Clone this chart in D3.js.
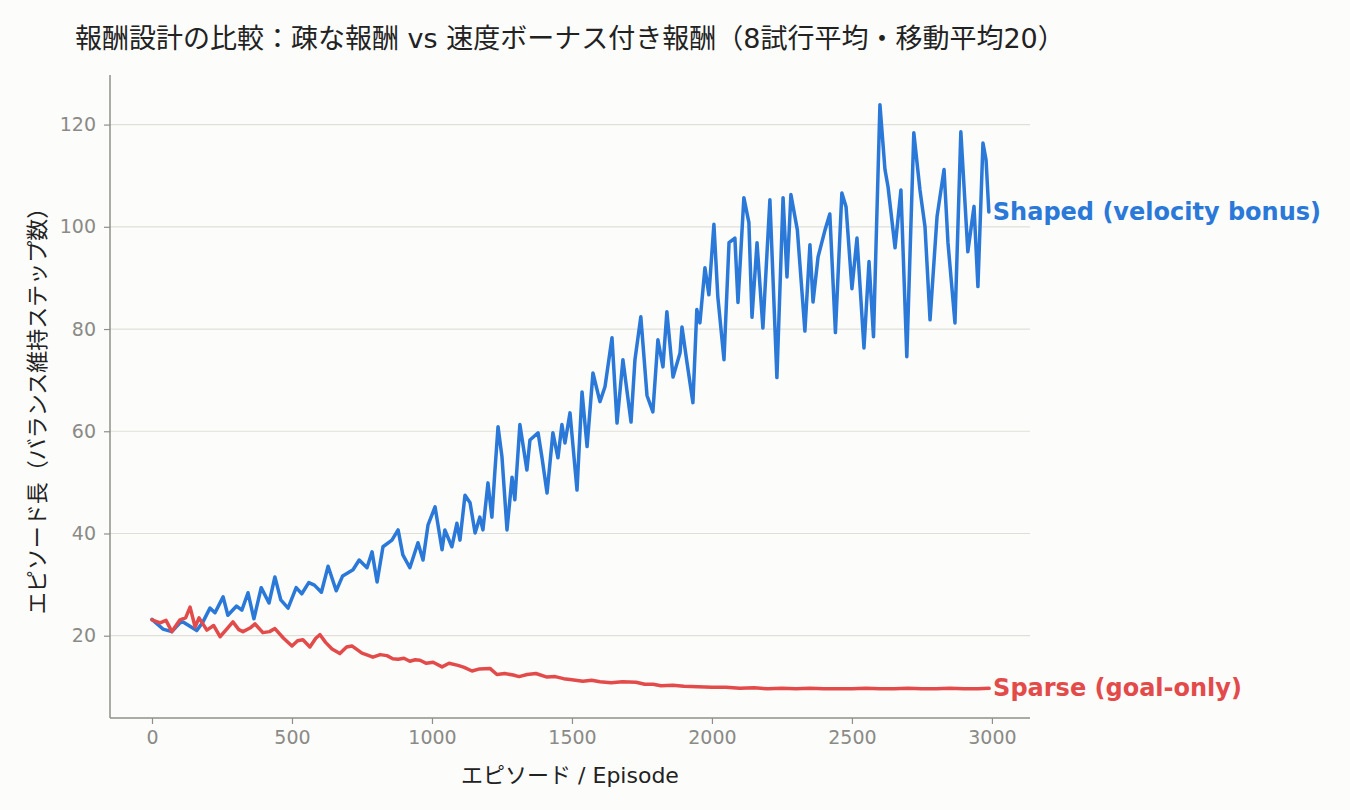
<!DOCTYPE html>
<html>
<head>
<meta charset="utf-8">
<script src="https://cdn.jsdelivr.net/npm/d3@7"></script>
<style>
  body { margin: 0; background: #fcfcfa; }
  svg { display: block; font-family: "DejaVu Sans", "Noto Sans CJK JP", sans-serif; }
</style>
</head>
<body>
<div class="chart"></div>
<script>
const titleText = "報酬設計の比較：疎な報酬 vs 速度ボーナス付き報酬（8試行平均・移動平均20）";
const xLabel = "エピソード / Episode";
const yLabel = "エピソード長（バランス維持ステップ数）";
const xTicks = [0, 500, 1000, 1500, 2000, 2500, 3000];
const yTicks = [20, 40, 60, 80, 100, 120];

// shaped reward (velocity bonus)
const shapedEpisodes = [0, 39, 71, 100, 111, 160, 182, 207, 225, 254, 271, 302, 321, 343, 364, 390, 418, 439, 460, 486,
  515, 535, 560, 580, 605, 629, 658, 681, 718, 740, 768, 786, 804, 825, 857, 879, 896, 921, 950, 968,
  986, 1011, 1036, 1046, 1071, 1089, 1100, 1118, 1136, 1154, 1171, 1182, 1200, 1214, 1225, 1236, 1250, 1268, 1286, 1296,
  1314, 1339, 1350, 1379, 1393, 1411, 1432, 1450, 1464, 1475, 1493, 1518, 1536, 1554, 1575, 1600, 1618, 1643, 1661, 1682,
  1711, 1725, 1746, 1768, 1789, 1807, 1825, 1839, 1861, 1886, 1893, 1911, 1932, 1946, 1957, 1975, 1989, 2007, 2021, 2043,
  2061, 2082, 2093, 2114, 2132, 2143, 2161, 2182, 2207, 2232, 2254, 2268, 2282, 2305, 2332, 2350, 2361, 2379, 2404, 2421,
  2441, 2464, 2479, 2500, 2518, 2543, 2561, 2577, 2600, 2618, 2629, 2654, 2675, 2696, 2721, 2743, 2761, 2779, 2804, 2829,
  2843, 2868, 2889, 2914, 2936, 2950, 2968, 2979, 2989];
const shapedValues = [23.2, 21.3, 20.8, 22.5, 22.7, 21.0, 22.7, 25.4, 24.5, 27.6, 24.0, 25.8, 25.0, 28.4, 23.3, 29.4, 26.4, 31.5, 27.0, 25.4,
  29.4, 28.2, 30.4, 29.9, 28.5, 33.6, 28.8, 31.7, 32.9, 34.8, 33.3, 36.4, 30.5, 37.4, 38.7, 40.7, 35.8, 33.3, 38.2, 34.8,
  41.7, 45.2, 36.8, 40.7, 37.4, 42.0, 38.7, 47.5, 46.0, 40.1, 43.2, 40.7, 49.9, 43.2, 52.4, 60.9, 55.0, 40.7, 51.0, 46.6,
  61.3, 52.4, 58.3, 59.7, 54.8, 47.9, 59.7, 54.8, 61.3, 57.7, 63.6, 48.5, 67.7, 57.0, 71.4, 65.8, 68.7, 78.3, 61.6, 74.0,
  61.8, 74.0, 82.4, 67.0, 63.8, 77.9, 72.6, 83.4, 70.6, 75.3, 80.4, 73.4, 65.6, 83.8, 81.2, 92.0, 86.7, 100.5, 86.3, 74.0,
  96.9, 97.8, 85.2, 105.7, 100.8, 82.3, 96.9, 80.2, 105.3, 70.5, 105.7, 90.2, 106.3, 99.4, 79.6, 96.5, 85.3, 94.1, 99.4, 102.5,
  79.3, 106.6, 103.9, 87.9, 97.8, 76.3, 93.2, 78.5, 123.9, 111.2, 107.8, 95.9, 107.2, 74.6, 118.4, 107.2, 100.0, 81.8, 102.0, 111.2,
  96.9, 81.2, 118.6, 95.1, 104.0, 88.3, 116.4, 113.1, 102.9];

// sparse reward (goal only)
const sparseEpisodes = [0, 29, 50, 71, 100, 120, 136, 154, 168, 196, 220, 243, 270, 289, 310, 325, 350, 368, 396, 420,
  439, 470, 500, 520, 539, 564, 585, 600, 620, 643, 671, 695, 714, 750, 770, 789, 815, 839, 860, 879,
  900, 921, 940, 957, 980, 1004, 1036, 1061, 1093, 1115, 1143, 1170, 1207, 1232, 1260, 1290, 1311, 1340, 1371, 1411,
  1440, 1470, 1500, 1539, 1570, 1600, 1640, 1680, 1729, 1760, 1790, 1818, 1860, 1900, 1950, 2000, 2050, 2100, 2150, 2200,
  2250, 2300, 2350, 2400, 2450, 2500, 2550, 2600, 2650, 2700, 2750, 2800, 2850, 2900, 2950, 2990];
const sparseValues = [23.1, 22.5, 23.0, 20.8, 23.1, 23.5, 25.6, 21.7, 23.5, 21.1, 22.0, 19.8, 21.5, 22.7, 21.2, 20.8, 21.5, 22.3, 20.6, 20.8,
  21.4, 19.5, 18.0, 19.0, 19.2, 17.8, 19.5, 20.2, 18.7, 17.4, 16.5, 17.8, 18.0, 16.6, 16.2, 15.8, 16.3, 16.1, 15.5, 15.4,
  15.6, 15.0, 15.3, 15.2, 14.6, 14.8, 13.9, 14.6, 14.2, 13.8, 13.1, 13.5, 13.6, 12.4, 12.6, 12.3, 12.0, 12.4, 12.6, 11.9,
  12.0, 11.6, 11.4, 11.1, 11.3, 11.0, 10.8, 11.0, 10.9, 10.5, 10.5, 10.2, 10.3, 10.1, 10.0, 9.9, 9.9, 9.7, 9.8, 9.6,
  9.7, 9.6, 9.7, 9.6, 9.6, 9.6, 9.7, 9.6, 9.6, 9.7, 9.6, 9.6, 9.7, 9.6, 9.6, 9.7];

const seriesNames = ["Shaped (velocity bonus)", "Sparse (goal-only)"];
const seriesColors = ["#2a78d8", "#e34b4b"];

function display() {
    const width = 1350, height = 810;
    const left = 110, right = 1030, top = 75, bottom = 718;

    const svg = d3.select(".chart")
        .append("svg")
        .attr("width", width)
        .attr("height", height)
        .style("background", "#fcfcfa");

    const x = d3.scaleLinear().domain([-150, 3136]).range([left, right]);
    const y = d3.scaleLinear().domain([3.9, 129.7]).range([bottom, top]);

    // grid
    svg.append("g")
        .selectAll("line")
        .data(yTicks)
        .enter()
        .append("line")
        .attr("x1", left)
        .attr("x2", right)
        .attr("y1", d => y(d))
        .attr("y2", d => y(d))
        .attr("stroke", "#dfdfda")
        .attr("stroke-width", 1.2);

    // axes
    const xAxis = svg.append("g")
        .attr("transform", `translate(0,${bottom})`)
        .call(d3.axisBottom(x).tickValues(xTicks).tickSize(6).tickPadding(7).tickFormat(d3.format("d")));
    const yAxis = svg.append("g")
        .attr("transform", `translate(${left},0)`)
        .call(d3.axisLeft(y).tickValues(yTicks).tickSize(6).tickPadding(8));

    [xAxis, yAxis].forEach(ax => {
        ax.select(".domain").attr("stroke", "#8f8f8a").attr("stroke-width", 1.5);
        ax.selectAll(".tick line").attr("stroke", "#8f8f8a").attr("stroke-width", 1.2);
        ax.selectAll(".tick text")
            .attr("fill", "#8a8a86")
            .style("font-size", "19px")
            .style("font-family", "'DejaVu Sans', sans-serif");
    });
    xAxis.select(".domain").attr("d", `M${left},0H${right}`);
    yAxis.select(".domain").attr("d", `M0,${top}V${bottom}`);

    // lines
    const line = d3.line()
        .x(d => x(d[0]))
        .y(d => y(d[1]));

    const shaped = shapedEpisodes.map((e, i) => [e, shapedValues[i]]);
    const sparse = sparseEpisodes.map((e, i) => [e, sparseValues[i]]);

    [shaped, sparse].forEach((data, i) => {
        svg.append("path")
            .datum(data)
            .attr("d", line)
            .attr("fill", "none")
            .attr("stroke", seriesColors[i])
            .attr("stroke-width", 3.5)
            .attr("stroke-linejoin", "round")
            .attr("stroke-linecap", "round");

        const last = data[data.length - 1];
        svg.append("text")
            .attr("x", x(last[0]) + 4)
            .attr("y", y(last[1]) + 1)
            .attr("dominant-baseline", "middle")
            .style("font-family", "'DejaVu Sans', sans-serif")
            .style("font-size", "24px")
            .style("font-weight", "bold")
            .style("fill", seriesColors[i])
            .text(seriesNames[i]);
    });

    // labels
    svg.append("text")
        .attr("x", 75)
        .attr("y", 48)
        .style("font-size", "27px")
        .style("fill", "#222")
        .text(titleText);

    svg.append("text")
        .attr("x", (left + right) / 2)
        .attr("y", 783)
        .attr("text-anchor", "middle")
        .style("font-size", "22px")
        .style("fill", "#222")
        .text(xLabel);

    svg.append("text")
        .attr("transform", `translate(45,${(top + bottom) / 2 + 9}) rotate(-90)`)
        .attr("text-anchor", "middle")
        .style("font-size", "22px")
        .style("fill", "#222")
        .text(yLabel);
}

window.onload = function() {
    display();
};
</script>
</body>
</html>
